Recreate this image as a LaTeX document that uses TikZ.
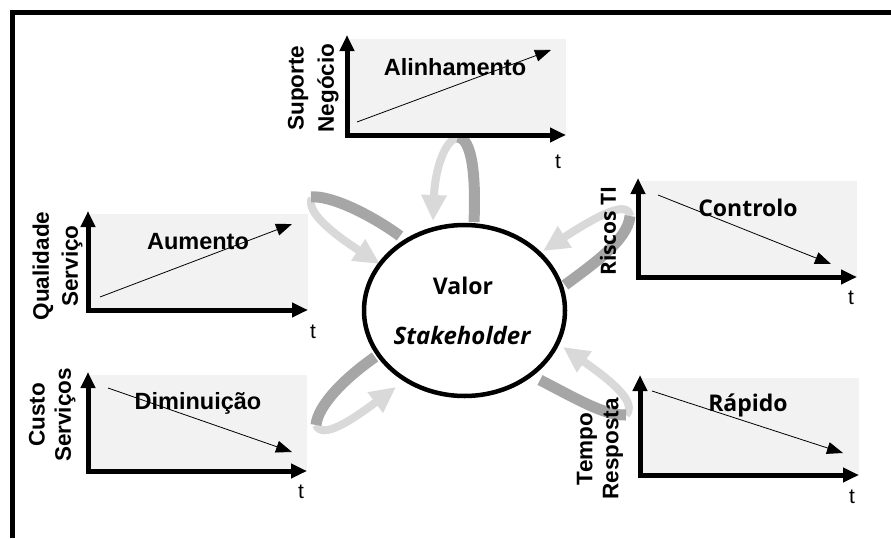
\documentclass[tikz,border=0pt]{standalone}
\usepackage{fontspec}
\setmainfont{Liberation Sans}
\newfontfamily\osans{Open Sans}
\usetikzlibrary{arrows.meta,shapes.geometric}
\definecolor{boxgray}{HTML}{F2F2F2}
\definecolor{bandDark}{HTML}{A6A6A6}
\definecolor{bandLight}{HTML}{D9D9D9}
\tikzset{
  chartbox/.style={fill=boxgray, draw=none},
  axes/.style={line width=5pt, line join=miter, {Triangle[width=14pt,length=16pt]}-{Triangle[width=14pt,length=16pt]}},
  trend/.style={line width=0.8pt, -{Triangle[width=12pt,length=16pt]}},
  ctitle/.style={font=\fontsize{23.5}{26}\selectfont\bfseries, inner sep=0pt},
  otitle/.style={font=\osans\fontsize{23}{26}\selectfont\bfseries, inner sep=0pt},
  ylab/.style={font=\fontsize{22.5}{25}\selectfont\bfseries, rotate=90, inner sep=0pt},
  oylab/.style={font=\osans\fontsize{21}{25}\selectfont\bfseries, rotate=90, inner sep=0pt},
  tlab/.style={font=\fontsize{21}{24}\selectfont, inner sep=0pt},
  darkband/.style={draw=bandDark, line width=11pt},
  lightband/.style={draw=bandLight, line width=8pt, -{Triangle[width=24pt,length=26pt]}},
}
\begin{document}
\begin{tikzpicture}[x=1pt,y=-1pt]
\useasboundingbox (0,0) rectangle (891,538);
\draw[line width=5pt, line join=miter] (12.5,538) -- (12.5,12.5) -- (891,12.5);

% ---- loops (behind everything else)
% top
\draw[lightband] (458,138) .. controls (446,138) and (435,168) .. (433,221);
\draw[darkband] (474,222) .. controls (476,175) and (472,139) .. (458,137);
% top-left
\draw[lightband] (312,198) .. controls (305,212) and (335,235) .. (380,264);
\draw[darkband] (400,236) .. controls (370,214) and (330,195) .. (311,197);
% right-top
\draw[lightband] (630,216) .. controls (628,200) and (600,214) .. (543,251);
\draw[darkband] (565,285) .. controls (592,265) and (628,240) .. (630,216);
% bottom-left
\draw[lightband] (316,425) .. controls (322,440) and (352,420) .. (396,387);
\draw[darkband] (375,357) .. controls (345,378) and (318,405) .. (316,425);
% bottom-right
\draw[lightband] (626,415) .. controls (638,402) and (610,380) .. (563,347);
\draw[darkband] (540,380) .. controls (575,398) and (605,416) .. (626,415);

% ---- top chart
\fill[chartbox] (347,39) rectangle (566,135);
\draw[axes] (347,35) -- (347,135) -- (566,135);
\draw[trend] (357,122) -- (551,50);
\node[ctitle] (alin) at (455,67) {Alinhamento};
\node[tlab] (t1) at (558,162) {t};
\node[ylab] (sup) at (298,88) {Suporte};
\node[ylab] (neg) at (328,88) {Negócio};

% ---- left chart 1
\fill[chartbox] (88,214) rectangle (308,310);
\draw[axes] (88,211) -- (88,310) -- (308,310);
\draw[trend] (100,297) -- (292,224);
\node[ctitle] (aum) at (198,242) {Aumento};
\node[tlab] (t2) at (313,332) {t};
\node[ylab] (qual) at (43,266) {Qualidade};
\node[ylab] (serv) at (72,266) {Serviço};

% ---- left chart 2
\fill[chartbox] (88,375) rectangle (307,471);
\draw[axes] (88,372) -- (88,471) -- (307,471);
\draw[trend] (108,388) -- (292,452);
\node[ctitle] (dim) at (198,403) {Diminuição};
\node[tlab] (t3) at (301,492) {t};
\node[ylab] (custo) at (37,415) {Custo};
\node[ylab] (servs) at (65,415) {Serviços};

% ---- right chart 1
\fill[chartbox] (638,181) rectangle (857,277);
\draw[axes] (638,178) -- (638,277) -- (857,277);
\draw[trend] (658,195) -- (831,264);
\node[otitle] (ctrl) at (748,208) {Controlo};
\node[tlab] (t4) at (851,298) {t};
\node[oylab] (risc) at (608,231) {Riscos TI};

% ---- right chart 2
\fill[chartbox] (640,378) rectangle (859,475);
\draw[axes] (640,375) -- (640,475) -- (859,475);
\draw[trend] (652,391) -- (843,453);
\node[otitle] (rap) at (748,405) {Rápido};
\node[tlab] (t5) at (852,497) {t};
\node[ylab] (tempo) at (587,449) {Tempo};
\node[ylab] (resp) at (613,449) {Resposta};

% ---- centre
\node[draw, ellipse, line width=4.5pt, minimum width=201pt, minimum height=171pt, inner sep=0pt, fill=none] (valor) at (464.5,310.5) {};
\node[font=\osans\fontsize{23}{26}\selectfont\bfseries, inner sep=0pt] (valtxt) at (463,286) {Valor};
\node[font=\osans\fontsize{24}{26}\selectfont\bfseries\itshape, inner sep=0pt] (stake) at (462,335) {Stakeholder};
\end{tikzpicture}
\end{document}
